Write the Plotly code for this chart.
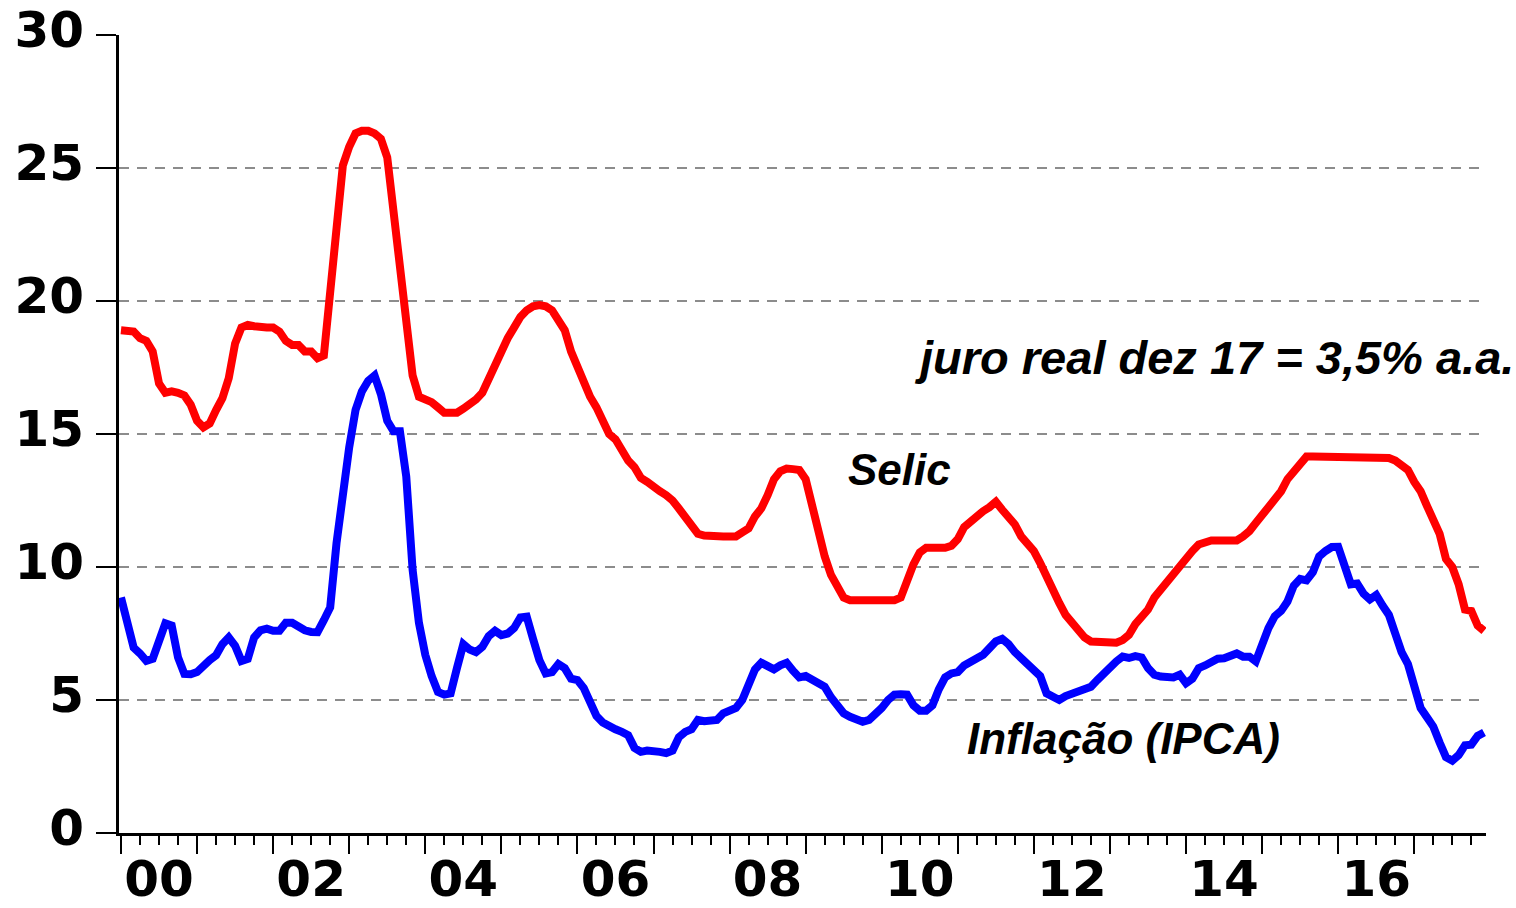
import plotly.graph_objects as go

# ---------------- data (monthly, Jan 2000 - Dec 2017) ----------------
START_YEAR = 2000
selic = [
    18.9, 18.88, 18.85, 18.6, 18.5, 18.1, 16.9, 16.55, 16.6, 16.55, 16.45, 16.1,      # 2000
    15.5, 15.25, 15.4, 15.9, 16.35, 17.1, 18.4, 19.0, 19.1, 19.05, 19.0, 19.0,        # 2001
    19.0, 18.85, 18.5, 18.35, 18.35, 18.1, 18.1, 17.85, 17.95, 20.5, 22.9, 25.1,      # 2002
    25.8, 26.3, 26.4, 26.4, 26.3, 26.1, 25.4, 23.3, 21.1, 19.3, 17.2, 16.4,           # 2003
    16.3, 16.2, 16.0, 15.8, 15.8, 15.8, 15.95, 16.1, 16.3, 16.55, 17.1, 17.65,        # 2004
    18.2, 18.6, 19.0, 19.4, 19.65, 19.8, 19.85, 19.8, 19.65, 19.2, 18.9, 18.1,        # 2005
    17.5, 17.0, 16.4, 16.0, 15.4, 15.0, 14.8, 14.4, 14.0, 13.75, 13.35, 13.2,         # 2006
    13.0, 12.85, 12.7, 12.5, 12.2, 11.85, 11.5, 11.25, 11.18, 11.15, 11.15, 11.15,    # 2007
    11.15, 11.15, 11.3, 11.45, 11.9, 12.2, 12.7, 13.3, 13.6, 13.7, 13.68, 13.65,      # 2008
    13.3, 12.3, 11.4, 10.4, 9.7, 9.2, 8.85, 8.75, 8.75, 8.75, 8.72, 8.72,             # 2009
    8.72, 8.72, 8.75, 8.85, 9.5, 10.1, 10.55, 10.72, 10.72, 10.72, 10.72, 10.8,       # 2010
    11.05, 11.5, 11.72, 11.9, 12.1, 12.25, 12.45, 12.15, 11.85, 11.6, 11.15, 10.9,    # 2011
    10.6, 10.15, 9.6, 9.15, 8.65, 8.2, 7.9, 7.65, 7.35, 7.2, 7.17, 7.15,              # 2012
    7.12, 7.15, 7.25, 7.45, 7.85, 8.15, 8.4, 8.85, 9.15, 9.4, 9.75, 10.1,             # 2013
    10.35, 10.6, 10.85, 10.95, 11.0, 11.0, 11.0, 11.0, 11.0, 11.15, 11.35, 11.65,     # 2014
    11.9, 12.25, 12.55, 12.85, 13.3, 13.6, 13.8, 14.15, 14.15, 14.15, 14.15, 14.15,   # 2015
    14.15, 14.15, 14.15, 14.15, 14.15, 14.15, 14.15, 14.15, 14.1, 14.0, 13.85, 13.65, # 2016
    13.2, 12.85, 12.3, 11.8, 11.25, 10.3, 10.0, 9.35, 8.4, 8.35, 7.8, 7.6,            # 2017
]
ipca = [
    8.85, 7.9, 6.97, 6.75, 6.47, 6.55, 7.3, 7.88, 7.8, 6.6, 5.98, 5.97,               # 2000
    6.05, 6.3, 6.5, 6.68, 7.1, 7.35, 7.04, 6.47, 6.55, 7.35, 7.62, 7.68,              # 2001
    7.6, 7.6, 7.9, 7.9, 7.72, 7.62, 7.56, 7.55, 8.0, 8.48, 10.9, 12.8,                # 2002
    14.5, 15.9, 16.6, 17.0, 17.2, 16.5, 15.5, 15.1, 15.1, 13.4, 9.9, 7.9,             # 2003
    6.7, 5.9, 5.3, 5.2, 5.25, 6.2, 7.1, 6.9, 6.8, 7.0, 7.4, 7.6,                      # 2004
    7.44, 7.5, 7.7, 8.1, 8.13, 7.3, 6.5, 6.0, 6.05, 6.35, 6.2, 5.8,                   # 2005
    5.75, 5.45, 4.85, 4.4, 4.15, 4.0, 3.9, 3.8, 3.68, 3.2, 3.05, 3.1,                 # 2006
    3.1, 3.05, 3.0, 3.1, 3.6, 3.8, 3.9, 4.25, 4.2, 4.22, 4.25, 4.5,                   # 2007
    4.6, 4.7, 5.0, 5.6, 6.15, 6.4, 6.25, 6.15, 6.3, 6.4, 6.1, 5.85,                   # 2008
    5.9, 5.75, 5.63, 5.5, 5.1, 4.75, 4.5, 4.37, 4.28, 4.18, 4.25, 4.45,               # 2009
    4.7, 5.0, 5.2, 5.22, 5.2, 4.8, 4.6, 4.6, 4.8, 5.4, 5.85, 6.0,                     # 2010
    6.05, 6.3, 6.45, 6.6, 6.7, 6.95, 7.2, 7.3, 7.1, 6.8, 6.55, 6.38,                  # 2011
    6.1, 5.9, 5.25, 5.1, 5.0, 5.15, 5.25, 5.3, 5.38, 5.5, 5.75, 6.0,                  # 2012
    6.2, 6.45, 6.63, 6.58, 6.65, 6.6, 6.2, 5.95, 5.88, 5.85, 5.85, 5.95,              # 2013
    5.63, 5.8, 6.2, 6.3, 6.42, 6.55, 6.57, 6.65, 6.75, 6.63, 6.63, 6.45,              # 2014
    7.1, 7.7, 8.15, 8.35, 8.7, 9.3, 9.55, 9.5, 9.8, 10.4, 10.6, 10.75,                # 2015
    10.76, 10.1, 9.35, 9.38, 9.0, 8.78, 8.95, 8.55, 8.2, 7.5, 6.8, 6.35,              # 2016
    5.4, 4.7, 4.35, 4.0, 3.4, 2.85, 2.72, 2.93, 3.3, 3.32, 3.65, 3.78,                # 2017
]
tick_years = list(range(2000, 2018))
label_years = [2000.5, 2002.5, 2004.5, 2006.5, 2008.5, 2010.5, 2012.5, 2014.5, 2016.5]
label_text = ["00", "02", "04", "06", "08", "10", "12", "14", "16"]
y_ticks = [0, 5, 10, 15, 20, 25, 30]
grid_values = [5, 10, 15, 20, 25]
notes = ["juro real dez 17 = 3,5% a.a.", "Selic", "Inflação (IPCA)"]

# decimal-year time axis
x = [START_YEAR + i / 12 for i in range(len(selic))]
x_range = [1999.974, 2017.943]

fig = go.Figure()
# helper (empty) trace so the overlay axes (labels / grid) get drawn
fig.add_trace(go.Scatter(x=[], y=[], xaxis="x2", yaxis="y2", showlegend=False, hoverinfo="skip"))
fig.add_trace(go.Scatter(x=x, y=selic, mode="lines", name="Selic",
                         line=dict(color="#FF0000", width=8)))
fig.add_trace(go.Scatter(x=x, y=ipca, mode="lines", name="Inflação (IPCA)",
                         line=dict(color="#0000FF", width=8)))

fig.update_layout(
    width=1516, height=908,
    margin=dict(l=119, r=30, t=35, b=75),
    paper_bgcolor="white", plot_bgcolor="white",
    showlegend=False,
    xaxis=dict(
        range=x_range, automargin=False,
        tickmode="array", tickvals=tick_years, showticklabels=False,
        ticks="outside", ticklen=18, tickwidth=2, tickcolor="black",
        showline=True, linewidth=3, linecolor="black",
        showgrid=False, zeroline=False,
        minor=dict(tickmode="linear", tick0=2000, dtick=0.25, ticks="outside",
                   ticklen=9, tickwidth=2, tickcolor="black", showgrid=False),
    ),
    xaxis2=dict(
        range=x_range, overlaying="x", anchor="y", side="bottom", automargin=False,
        tickmode="array", tickvals=label_years, ticktext=label_text,
        ticks="", showline=False, showgrid=False, zeroline=False,
        ticklabelstandoff=12, ticklabeloverflow="allow",
        tickfont=dict(family="DejaVu Sans", size=50, color="black", weight="bold"),
    ),
    yaxis=dict(
        range=[0, 30], automargin=False, tickmode="array", tickvals=y_ticks,
        ticks="outside", ticklen=20, tickwidth=2, tickcolor="black",
        ticklabelstandoff=2, ticklabelshift=-6, ticklabeloverflow="allow",
        showline=True, linewidth=3, linecolor="black",
        showgrid=False, zeroline=False,
        tickfont=dict(family="DejaVu Sans", size=50, color="black", weight="bold"),
    ),
    yaxis2=dict(
        range=[0, 30], overlaying="y", anchor="x", side="left", automargin=False,
        tickmode="array", tickvals=grid_values, showticklabels=False, ticks="",
        showgrid=True, gridcolor="#8c8c8c", gridwidth=1.5, griddash="10px,8px",
        showline=False, zeroline=False,
    ),
)

ann_font = dict(family="Liberation Sans", size=44, color="black")
fig.add_annotation(text="<b><i>" + notes[0] + "</i></b>", xref="paper", yref="paper",
                   x=0.580, y=0.5955, xanchor="left", yanchor="middle",
                   showarrow=False, font=dict(ann_font, size=47))
fig.add_annotation(text="<b><i>" + notes[1] + "</i></b>", xref="paper", yref="paper",
                   x=0.532, y=0.455, xanchor="left", yanchor="middle",
                   showarrow=False, font=ann_font)
fig.add_annotation(text="<b><i>" + notes[2] + "</i></b>", xref="paper", yref="paper",
                   x=0.619, y=0.118, xanchor="left", yanchor="middle",
                   showarrow=False, font=ann_font)

# page has a default 8px body margin; remove it so the 1516x908 figure fills the window
fig.write_html("out.html", config={"displayModeBar": False},
               post_script="document.body.style.margin='0';")
